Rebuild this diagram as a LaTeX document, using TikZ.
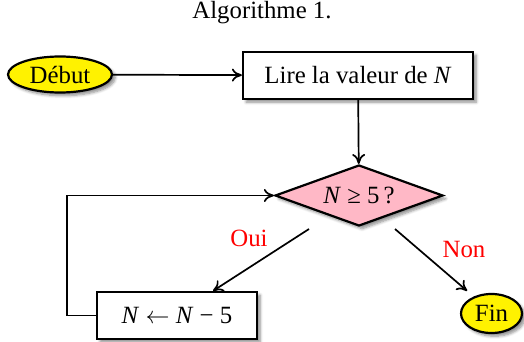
\documentclass[tikz,border=0pt]{standalone}
\usepackage{fontspec}
\setmainfont{Liberation Serif}
\usetikzlibrary{arrows.meta, positioning, calc, shapes.geometric, shadows.blur}
\definecolor{startyel}{HTML}{FFF200}
\definecolor{testpink}{HTML}{FFB8C6}
\definecolor{labred}{HTML}{FF0000}

\begin{document}
\begin{tikzpicture}[
  x=0.5pt, y=-0.5pt,
  >={To[length=5pt, width=6.5pt]},
  every node/.style={text=black, font=\fontsize{12.4}{15}\selectfont},
  boxshadow/.style={blur shadow={shadow xshift=1.6pt, shadow yshift=-1.6pt,
      shadow blur radius=1.4pt, shadow blur steps=6, shadow opacity=45}},
  endpoint/.style={ellipse, draw, line width=1.1pt, fill=startyel, inner sep=0pt, boxshadow},
  actionbox/.style={rectangle, draw, line width=1.1pt, fill=white, inner sep=0pt, boxshadow},
  testbox/.style={diamond, draw, line width=1.1pt, fill=testpink, aspect=2.75, inner sep=1pt, boxshadow},
  flow/.style={line width=0.85pt, ->},
  answer/.style={text=labred},
]

% Frame of the page
\useasboundingbox (0,0) rectangle (524,342);

% Title
\node (title) at (262,13) {Algorithme 1.};

% Nodes of the flowchart
\node[endpoint, minimum width=52pt, minimum height=18pt] (start) at (60,74.5) {Début};
\node[actionbox, minimum width=115pt, minimum height=23.5pt] (read) at (358,75.5) {Lire la valeur de \textit{N}};
\node[testbox, minimum width=84pt, minimum height=30.5pt] (test) at (359,195.5) {\textit{N}~≥~5\,?};
\node[actionbox, minimum width=80pt, minimum height=23.5pt] (sub) at (177,315.5) {\textit{N} $\leftarrow$ \textit{N} − 5};
\node[endpoint, minimum width=30.5pt, minimum height=19.5pt] (stop) at (491.5,313.5) {Fin};

% Free ends of the two branches (they leave a gap below the diamond)
\coordinate (yes start) at (309,229);
\coordinate (no start)  at (395,229);

% Connectors
\draw[flow] (start) -- (read);
\draw[flow] (read) -- (test);
\draw[flow] (yes start) -- ($(sub.north)+(36,0)$);
\draw[flow] (no start) -- ($(stop.north west)+(-2,-8)$);
\draw[flow] (sub.west) -- ++(-29,0) |- (test.west);

% Branch labels
\node[answer] (yes) at (249,238) {Oui};
\node[answer] (no)  at (464,249) {Non};

\end{tikzpicture}
\end{document}
